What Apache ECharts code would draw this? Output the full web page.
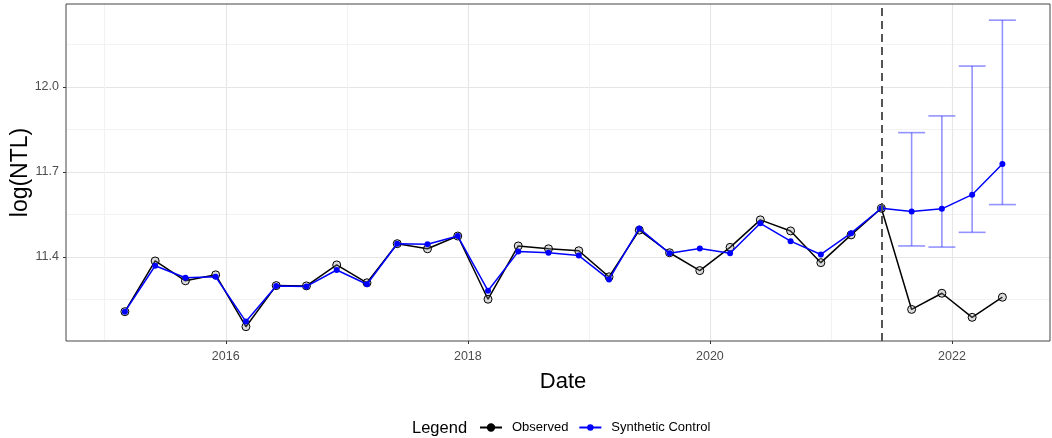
<!DOCTYPE html>
<html>
<head>
<meta charset="utf-8">
<script src="https://cdn.jsdelivr.net/npm/echarts@6/dist/echarts.min.js"></script>
<style>
  html, body { margin: 0; padding: 0; background: #fff; }
  #chart { width: 1052px; height: 438px; }
</style>
</head>
<body>
<div id="chart"></div>
<script>
// Quarterly dates of the series
const dates = [
  '2015-03','2015-06','2015-09','2015-12',
  '2016-03','2016-06','2016-09','2016-12',
  '2017-03','2017-06','2017-09','2017-12',
  '2018-03','2018-06','2018-09','2018-12',
  '2019-03','2019-06','2019-09','2019-12',
  '2020-03','2020-06','2020-09','2020-12',
  '2021-03','2021-06','2021-09','2021-12',
  '2022-03','2022-06'
];
const observed = [
  11.207, 11.386, 11.316, 11.337,
  11.154, 11.299, 11.298, 11.372,
  11.309, 11.447, 11.429, 11.474,
  11.251, 11.439, 11.429, 11.422,
  11.330, 11.495, 11.415, 11.352,
  11.434, 11.531, 11.492, 11.380,
  11.478, 11.572, 11.215, 11.272,
  11.187, 11.258
];
const synthetic = [
  11.207, 11.369, 11.327, 11.330,
  11.172, 11.298, 11.296, 11.354,
  11.304, 11.447, 11.445, 11.474,
  11.281, 11.419, 11.415, 11.405,
  11.321, 11.501, 11.413, 11.430,
  11.413, 11.519, 11.456, 11.409,
  11.484, 11.572, 11.561, 11.570,
  11.620, 11.728
];
// Interval bounds for the post-treatment quarters
const ciDates = ['2021-09','2021-12','2022-03','2022-06'];
const ciLower = [11.439, 11.435, 11.487, 11.585];
const ciUpper = [11.839, 11.898, 12.074, 12.236];
const treatmentDate = '2021-06';

const xMajorTicks = [2016, 2018, 2020, 2022];
const xMinorTicks = [2015, 2017, 2019, 2021];
const yMajorTicks = [11.4, 11.7, 12.0];
const yMinorTicks = [11.25, 11.55, 11.85, 12.15];

// date string 'YYYY-MM' -> decimal year
function toYear(d) {
  const parts = d.split('-').map(Number);
  return parts[0] + (parts[1] - 1) / 12;
}

const obsData = dates.map((d, i) => [toYear(d), observed[i]]);
const synData = dates.map((d, i) => [toYear(d), synthetic[i]]);
const ciData = ciDates.map((d, i) => [toYear(d), ciLower[i], ciUpper[i]]);

const X_MIN = 2014.68, X_MAX = 2022.81;
const Y_MIN = 11.1035, Y_MAX = 12.293;
const FONT = 'Liberation Sans, Arial, sans-serif';
const GRID_MAJOR = '#e6e6e6';
const GRID_MINOR = '#f2f2f2';

const chart = echarts.init(document.getElementById('chart'));

chart.setOption({
  animation: false,
  backgroundColor: '#ffffff',
  textStyle: { fontFamily: FONT },
  title: {
    text: 'Legend',
    left: 412,
    top: 420,
    padding: 0,
    textStyle: { fontFamily: FONT, fontSize: 16.5, fontWeight: 'normal', color: '#000' }
  },
  legend: {
    left: 479,
    top: 421,
    padding: 0,
    itemWidth: 22,
    itemHeight: 8,
    itemGap: 10,
    textStyle: { fontFamily: FONT, fontSize: 13, color: '#000', padding: [0, 0, 0, 5] },
    data: [
      { name: 'Observed', itemStyle: { color: '#000', borderColor: '#000' } },
      { name: 'Synthetic Control' }
    ]
  },
  grid: {
    left: 66, right: 2, top: 4, bottom: 97,
    containLabel: false,
    outerBoundsMode: 'none',
    show: true, borderColor: '#444', borderWidth: 1, backgroundColor: 'transparent', z: 3
  },
  xAxis: [
    {
      type: 'value', min: X_MIN, max: X_MAX,
      name: 'Date', nameLocation: 'middle', nameGap: 30, nameMoveOverlap: false,
      nameTextStyle: { fontFamily: FONT, fontSize: 22, color: '#000', padding: [0, 0, 0, 10] },
      axisLine: { show: false },
      axisTick: { show: true, length: 3, customValues: xMajorTicks, lineStyle: { color: '#333' } },
      axisLabel: { customValues: xMajorTicks, margin: 9, fontSize: 12.5, color: '#4d4d4d', fontFamily: FONT,
        formatter: v => String(Math.round(v)) },
      splitLine: { show: true, lineStyle: { color: GRID_MAJOR, width: 1.2 } }
    },
    {
      type: 'value', min: X_MIN, max: X_MAX, position: 'bottom',
      axisLine: { show: false },
      axisTick: { show: false, customValues: xMinorTicks },
      axisLabel: { show: false },
      splitLine: { show: true, lineStyle: { color: GRID_MINOR, width: 1 } }
    }
  ],
  yAxis: [
    {
      type: 'value', min: Y_MIN, max: Y_MAX,
      name: 'log(NTL)', nameLocation: 'middle', nameGap: 34, nameRotate: 90, nameMoveOverlap: false,
      nameTextStyle: { fontFamily: FONT, fontSize: 23, color: '#000' },
      axisLine: { show: false },
      axisTick: { show: true, length: 3, customValues: yMajorTicks, lineStyle: { color: '#333' } },
      axisLabel: { customValues: yMajorTicks, margin: 7, fontSize: 12.5, color: '#4d4d4d', fontFamily: FONT,
        formatter: v => v.toFixed(1) },
      splitLine: { show: true, lineStyle: { color: GRID_MAJOR, width: 1.2 } }
    },
    {
      type: 'value', min: Y_MIN, max: Y_MAX, position: 'left',
      axisLine: { show: false },
      axisTick: { show: false, customValues: yMinorTicks },
      axisLabel: { show: false },
      splitLine: { show: true, lineStyle: { color: GRID_MINOR, width: 1 } }
    }
  ],
  series: [
    {
      name: 'Observed',
      type: 'line',
      data: obsData,
      xAxisIndex: 0, yAxisIndex: 0,
      symbol: 'circle',
      symbolSize: 8,
      lineStyle: { color: '#000', width: 1.5 },
      itemStyle: { color: 'rgba(140,140,140,0.3)', borderColor: '#000', borderWidth: 1 },
      z: 2,
      markLine: {
        silent: true,
        symbol: 'none',
        label: { show: false },
        lineStyle: { color: '#555', type: [8, 5], width: 2 },
        data: [{ xAxis: toYear(treatmentDate) }]
      }
    },
    {
      name: 'Interval',
      type: 'custom',
      xAxisIndex: 0, yAxisIndex: 0,
      data: ciData,
      encode: { x: 0, y: [1, 2] },
      z: 3,
      renderItem: function (params, api) {
        const x = api.value(0);
        const lo = api.coord([x, api.value(1)]);
        const hi = api.coord([x, api.value(2)]);
        const hw = 13.5;
        const style = { stroke: 'rgba(40,40,255,0.5)', lineWidth: 1.6 };
        return {
          type: 'group',
          children: [
            { type: 'line', shape: { x1: lo[0], y1: lo[1], x2: hi[0], y2: hi[1] }, style: style },
            { type: 'line', shape: { x1: lo[0] - hw, y1: lo[1], x2: lo[0] + hw, y2: lo[1] }, style: style },
            { type: 'line', shape: { x1: hi[0] - hw, y1: hi[1], x2: hi[0] + hw, y2: hi[1] }, style: style }
          ]
        };
      }
    },
    {
      name: 'Synthetic Control',
      type: 'line',
      data: synData,
      xAxisIndex: 0, yAxisIndex: 0,
      symbol: 'circle',
      symbolSize: 6,
      lineStyle: { color: '#0000ff', width: 1.5 },
      itemStyle: { color: '#0000ff' },
      z: 4
    }
  ]
});
</script>
</body>
</html>
